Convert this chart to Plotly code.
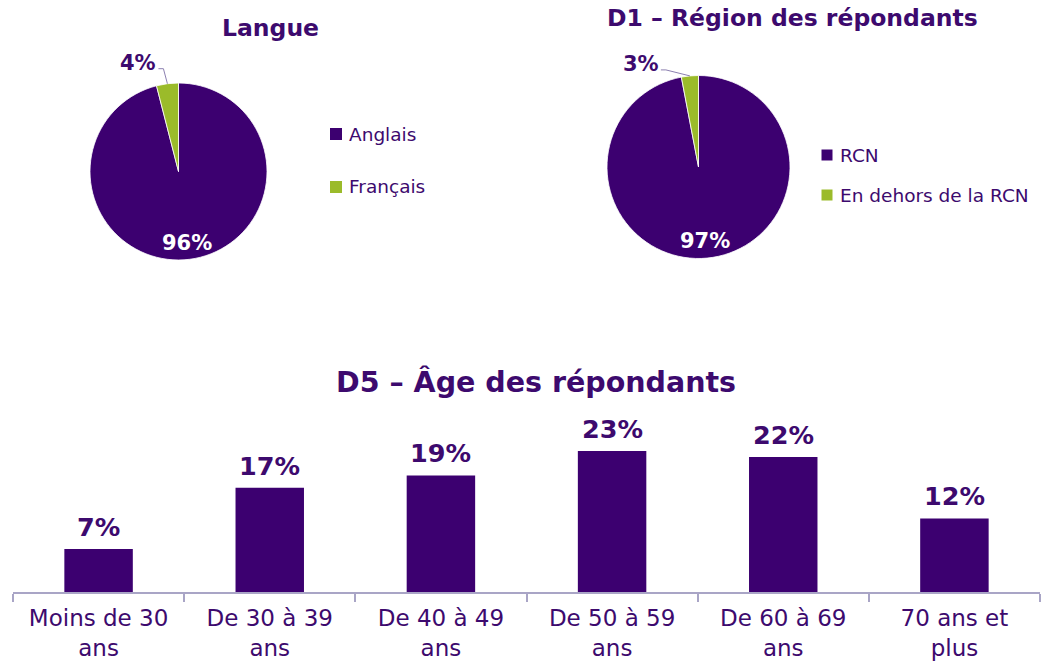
import math
import plotly.graph_objects as go

# ---- data ----
langue_labels = ["Anglais", "Français"]
langue_values = [96, 4]

region_labels = ["RCN", "En dehors de la RCN"]
region_values = [97, 3]

age_labels = ["Moins de 30<br>ans", "De 30 à 39<br>ans", "De 40 à 49<br>ans",
              "De 50 à 59<br>ans", "De 60 à 69<br>ans", "70 ans et<br>plus"]
age_values = [7, 17, 19, 23, 22, 12]

# ---- style ----
W, H = 1042, 666
PURPLE = "#3C0070"
GREEN = "#9BBB2A"
TEXT = "#3D0A6E"
AXIS = "#A9A5C6"
FONT = "DejaVu Sans"
SLICE_COLORS = [PURPLE, GREEN]


def px(x):
    return x / W


def py(y):
    return 1 - y / H


fig = go.Figure()

# pie geometry in pixels: center x, center y, radius
pies = [
    dict(labels=langue_labels, values=langue_values, cx=178.5, cy=171.5, r=88.5,
         title="Langue", title_xy=(270, 28),
         small_off=(-29, -21), legend_x=336, legend_text_x=347, legend_y=[134, 187], sq=12),
    dict(labels=region_labels, values=region_values, cx=698.5, cy=167, r=91.5,
         title="D1 – Région des répondants", title_xy=(792, 18),
         small_off=(-49, -12), legend_x=827, legend_text_x=838, legend_y=[155, 195], sq=11),
]

annotations = []
shapes = []

for p in pies:
    cx, cy, r = p["cx"], p["cy"], p["r"]
    fig.add_trace(go.Pie(
        labels=p["labels"], values=p["values"], sort=False, direction="clockwise",
        rotation=0, textinfo="none", hoverinfo="label+percent", showlegend=False,
        marker=dict(colors=SLICE_COLORS, line=dict(color="white", width=0.8)),
        domain=dict(x=[px(cx - r), px(cx + r)], y=[py(cy + r), py(cy - r)]),
    ))

    total = sum(p["values"])
    start = 0.0
    for i, v in enumerate(p["values"]):
        span = 360.0 * v / total
        mid = math.radians(start + span / 2)
        start += span
        dx, dy = math.sin(mid), -math.cos(mid)
        if i == 0:
            # large slice: label inside, near the rim
            lx, ly = cx + 0.81 * r * dx, cy + 0.81 * r * dy
            annotations.append(dict(
                x=px(lx), y=py(ly), xref="paper", yref="paper", text=f"<b>{v}%</b>",
                showarrow=False, font=dict(family=FONT, size=21, color="white"),
                xanchor="center", yanchor="middle"))
        else:
            # small slice: label outside with a leader line
            ex, ey = cx + r * dx, cy + r * dy
            lx, ly = ex + p["small_off"][0], ey + p["small_off"][1]
            annotations.append(dict(
                x=px(lx), y=py(ly), xref="paper", yref="paper", text=f"<b>{v}%</b>",
                showarrow=False, font=dict(family=FONT, size=21, color=TEXT),
                xanchor="center", yanchor="middle"))
            kx = lx + 20
            shapes.append(dict(
                type="path", xref="paper", yref="paper",
                path=f"M {px(kx)},{py(ly + 6)} L {px(kx + 5)},{py(ly + 6)} L {px(ex)},{py(ey)}",
                line=dict(color="#8C80B0", width=1)))

    # title
    tx, ty = p["title_xy"]
    annotations.append(dict(
        x=px(tx), y=py(ty), xref="paper", yref="paper", text=f"<b>{p['title']}</b>",
        showarrow=False, font=dict(family=FONT, size=23.5, color=TEXT),
        xanchor="center", yanchor="middle"))

    # legend
    s = p["sq"]
    for lab, col, ly in zip(p["labels"], SLICE_COLORS, p["legend_y"]):
        shapes.append(dict(
            type="rect", xref="paper", yref="paper",
            x0=px(p["legend_x"] - s / 2), x1=px(p["legend_x"] + s / 2),
            y0=py(ly + s / 2), y1=py(ly - s / 2),
            fillcolor=col, line=dict(width=0)))
        annotations.append(dict(
            x=px(p["legend_text_x"]), y=py(ly), xref="paper", yref="paper", text=lab,
            showarrow=False, font=dict(family=FONT, size=18.5, color=TEXT),
            xanchor="left", yanchor="middle"))

# ---- bar chart ----
fig.add_trace(go.Bar(
    x=age_labels, y=age_values, marker=dict(color=PURPLE, line=dict(width=0)),
    xaxis="x", yaxis="y", showlegend=False, hoverinfo="x+y",
))
for lab, v in zip(age_labels, age_values):
    annotations.append(dict(
        x=lab, y=v, xref="x", yref="y", text=f"<b>{v}%</b>", showarrow=False,
        yanchor="bottom", xanchor="center", yshift=5,
        font=dict(family=FONT, size=25.5, color=TEXT)))

annotations.append(dict(
    x=px(536), y=py(382), xref="paper", yref="paper",
    text="<b>D5 – Âge des répondants</b>", showarrow=False,
    font=dict(family=FONT, size=28.5, color=TEXT), xanchor="center", yanchor="middle"))

fig.update_layout(
    width=W, height=H,
    margin=dict(l=0, r=0, t=0, b=0, autoexpand=False),
    paper_bgcolor="white", plot_bgcolor="white",
    bargap=0.6,
    xaxis=dict(
        domain=[px(13), px(1040)], anchor="y", type="category",
        showline=True, linecolor=AXIS, linewidth=1.5,
        ticks="outside", tickson="boundaries", ticklen=8, tickcolor=AXIS, tickwidth=1.5,
        ticklabelstandoff=5, automargin=False,
        tickfont=dict(family=FONT, size=23, color=TEXT), showgrid=False, zeroline=False,
    ),
    yaxis=dict(
        domain=[py(592), py(400)], range=[0, 31.3], visible=False,
        showgrid=False, zeroline=False, automargin=False,
    ),
    annotations=annotations,
    shapes=shapes,
    font=dict(family=FONT, color=TEXT),
)

fig.write_html("out.html")
